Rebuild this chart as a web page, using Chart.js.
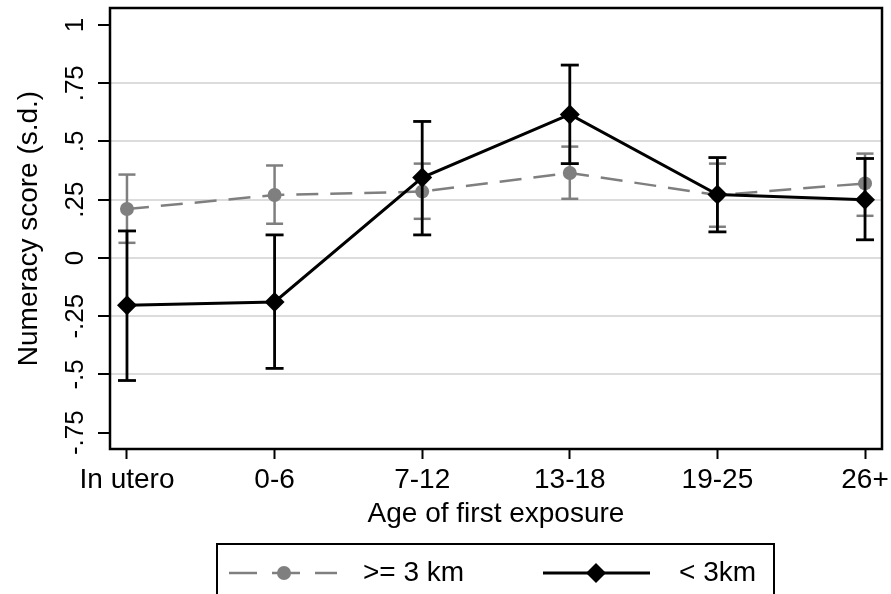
<!DOCTYPE html>
<html>
<head>
<meta charset="utf-8">
<script src="https://cdn.jsdelivr.net/npm/chart.js@4.4.1/dist/chart.umd.min.js"></script>
<style>
    body { margin: 0; background: #fff; }
    #numeracy_chart { display: block; }
</style>
</head>
<body>
<canvas id="numeracy_chart" width="891" height="594"></canvas>
<script>
//Data
var categories = ['In utero', '0-6', '7-12', '13-18', '19-25', '26+'];
var series_names = ['>= 3 km', '< 3km'];

// >= 3 km
var far_mean = [0.21, 0.27, 0.285, 0.365, 0.27, 0.32];
var far_lo = [0.065, 0.147, 0.168, 0.254, 0.134, 0.181];
var far_hi = [0.358, 0.397, 0.405, 0.478, 0.405, 0.448];

// < 3km
var near_mean = [-0.203, -0.189, 0.345, 0.616, 0.272, 0.25];
var near_lo = [-0.526, -0.474, 0.099, 0.405, 0.112, 0.078];
var near_hi = [0.116, 0.099, 0.586, 0.828, 0.431, 0.427];

var y_ticks = [-0.75, -0.5, -0.25, 0, 0.25, 0.5, 0.75, 1];
var y_tick_labels = ['-.75', '-.5', '-.25', '0', '.25', '.5', '.75', '1'];

var font_family = '"Liberation Sans", Arial, sans-serif';
var far_color = '#7f7f7f';
var near_color = '#000000';

function to_points(values) {
    return values.map(function (v, i) { return {x: i, y: v}; });
}

//Each whisker is lo -> hi, then a gap
function whiskers(lo, hi) {
    var pts = [];
    for (var i = 0; i < lo.length; i++) {
        pts.push({x: i, y: lo[i]}, {x: i, y: hi[i]}, {x: i, y: null});
    }
    return pts;
}

/* --------------------- Plot frame --------------------- */

var frame_plugin = {
    id: 'frame',
    beforeDatasetsDraw: function (chart) {
        var a = chart.chartArea;
        var ctx = chart.ctx;
        ctx.save();
        ctx.strokeStyle = '#000';
        ctx.lineWidth = 2.5;
        ctx.strokeRect(a.left, a.top, a.right - a.left, a.bottom - a.top);
        ctx.restore();
    }
};

/* --------------------- Legend (boxed, Stata style) --------------------- */

var legend_plugin = {
    id: 'stata_legend',
    afterDraw: function (chart) {
        var ctx = chart.ctx;
        var y = 573;
        ctx.save();
        ctx.strokeStyle = '#000';
        ctx.lineWidth = 2;
        ctx.strokeRect(217, 544, 557, 80);

        // >= 3 km sample
        ctx.strokeStyle = far_color;
        ctx.lineWidth = 2.5;
        ctx.setLineDash([28, 15]);
        ctx.beginPath();
        ctx.moveTo(229, y);
        ctx.lineTo(337, y);
        ctx.stroke();
        ctx.setLineDash([]);
        ctx.fillStyle = far_color;
        Chart.helpers.drawPoint(ctx, {pointStyle: 'circle', radius: 7, borderWidth: 0}, 284, y);

        // < 3km sample
        ctx.strokeStyle = near_color;
        ctx.lineWidth = 3;
        ctx.beginPath();
        ctx.moveTo(543, y);
        ctx.lineTo(650, y);
        ctx.stroke();
        ctx.fillStyle = near_color;
        Chart.helpers.drawPoint(ctx, {pointStyle: 'rectRot', radius: 10, borderWidth: 0}, 596, y);

        ctx.fillStyle = '#000';
        ctx.font = '28px ' + font_family;
        ctx.textBaseline = 'middle';
        ctx.textAlign = 'left';
        ctx.fillText(series_names[0], 363, y);
        ctx.fillText(series_names[1], 679, y);
        ctx.restore();
    }
};

/* --------------------- Chart --------------------- */

var ctx = document.getElementById('numeracy_chart').getContext('2d');
var chart = new Chart(ctx, {
    type: 'line',
    data: {
        datasets: [{
            label: series_names[1],
            data: to_points(near_mean),
            borderColor: near_color,
            backgroundColor: near_color,
            borderWidth: 3,
            tension: 0,
            pointStyle: 'rectRot',
            pointRadius: 10,
            pointBorderWidth: 0,
            order: 0
        }, {
            label: series_names[1] + ' CI',
            data: whiskers(near_lo, near_hi),
            borderColor: near_color,
            borderWidth: 2.8,
            spanGaps: false,
            pointStyle: 'line',
            pointRadius: 9,
            pointBorderWidth: 2.8,
            pointBorderColor: near_color,
            order: 1
        }, {
            label: series_names[0],
            data: to_points(far_mean),
            borderColor: far_color,
            backgroundColor: far_color,
            borderWidth: 2.5,
            borderDash: [22, 12],
            tension: 0,
            pointStyle: 'circle',
            pointRadius: 7,
            pointBorderWidth: 0,
            order: 2
        }, {
            label: series_names[0] + ' CI',
            data: whiskers(far_lo, far_hi),
            borderColor: far_color,
            borderWidth: 2.5,
            spanGaps: false,
            pointStyle: 'line',
            pointRadius: 8.5,
            pointBorderWidth: 2.5,
            pointBorderColor: far_color,
            order: 3
        }]
    },
    options: {
        responsive: false,
        animation: false,
        events: [],
        layout: {
            autoPadding: false,
            padding: {top: 8, right: 9, bottom: 63, left: 0}
        },
        plugins: {
            legend: {display: false},
            tooltip: {enabled: false}
        },
        scales: {
            x: {
                type: 'linear',
                min: -0.115,
                max: 5.115,
                afterBuildTicks: function (scale) {
                    scale.ticks = categories.map(function (c, i) { return {value: i}; });
                },
                afterFit: function (scale) {
                    scale.height = 82;
                    scale.paddingLeft = 0;
                    scale.paddingRight = 0;
                },
                border: {display: false},
                grid: {
                    drawOnChartArea: false,
                    tickLength: 10,
                    tickColor: '#000',
                    tickWidth: 2
                },
                ticks: {
                    autoSkip: false,
                    maxRotation: 0,
                    padding: 4,
                    color: '#000',
                    font: {family: font_family, size: 28},
                    callback: function (value) { return categories[value]; }
                },
                title: {
                    display: true,
                    text: 'Age of first exposure',
                    color: '#000',
                    padding: 0,
                    font: {family: font_family, size: 28}
                }
            },
            y: {
                min: -0.82,
                max: 1.073,
                afterBuildTicks: function (scale) {
                    scale.ticks = y_ticks.map(function (v) { return {value: v}; });
                },
                afterFit: function (scale) {
                    scale.width = 110;
                    scale.paddingTop = 0;
                    scale.paddingBottom = 0;
                },
                border: {display: false},
                grid: {
                    color: function (c) {
                        var v = c.tick ? c.tick.value : null;
                        return (v === 1 || v === -0.75) ? 'rgba(0,0,0,0)' : '#dcdcdc';
                    },
                    lineWidth: 2,
                    tickLength: 12,
                    tickColor: '#000',
                    tickWidth: 2
                },
                ticks: {
                    autoSkip: false,
                    minRotation: 90,
                    maxRotation: 90,
                    crossAlign: 'center',
                    padding: 0,
                    color: '#000',
                    font: {family: font_family, size: 26},
                    callback: function (value, index) { return y_tick_labels[index]; }
                },
                title: {
                    display: true,
                    text: 'Numeracy score (s.d.)',
                    color: '#000',
                    padding: {top: 12, bottom: 0},
                    font: {family: font_family, size: 28}
                }
            }
        }
    },
    plugins: [frame_plugin, legend_plugin]
});
</script>
</body>
</html>
